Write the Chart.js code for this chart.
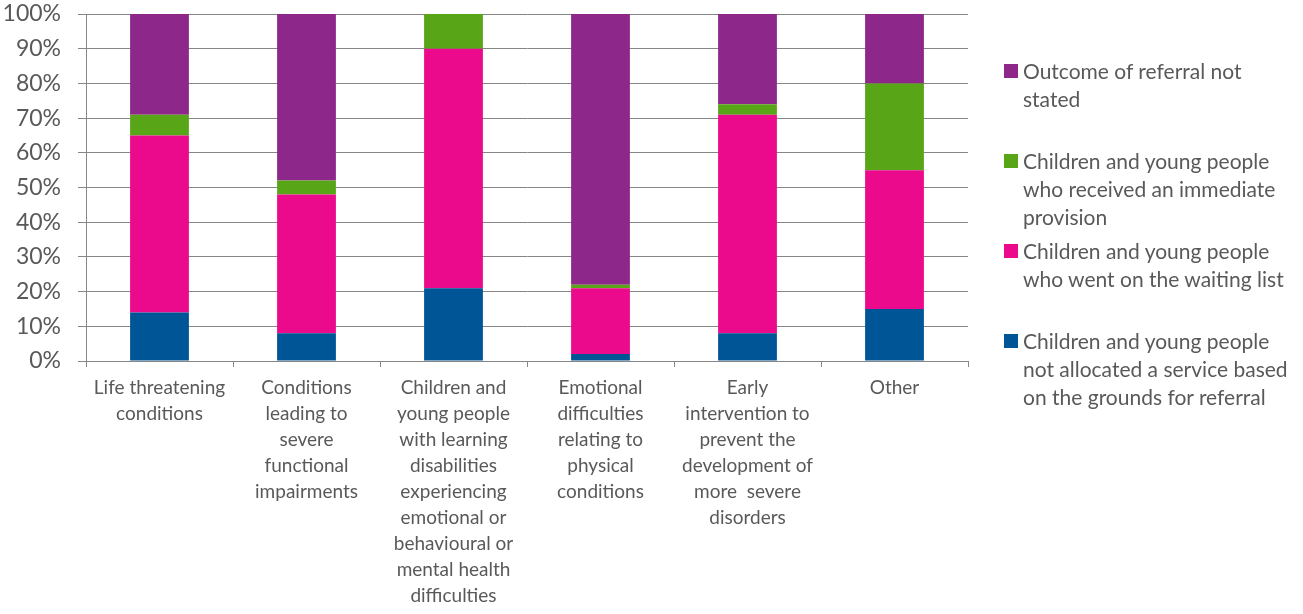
<!DOCTYPE html>
<html>
<head>
<meta charset="utf-8">
<script src="https://cdn.jsdelivr.net/npm/chart.js@4.4.1/dist/chart.umd.min.js"></script>
<style>
    body { margin: 0; background: #fff; }
    #wrap { position: relative; width: 1303px; height: 614px; }
    #legend { position: absolute; left: 1004px; top: 57px; font-family: Lato, sans-serif; font-size: 21px; line-height: 28px; color: #595959; }
    .item { position: relative; height: 90px; padding-left: 19px; white-space: nowrap; }
    .box { position: absolute; left: 0; top: 7px; width: 14px; height: 14px; }
</style>
</head>
<body>
<div id="wrap">
    <canvas id="chart"></canvas>
    <div id="legend"></div>
</div>
<script>
// categories (already wrapped the way the picture wraps them)
const categories = [
    ['Life threatening', 'conditions'],
    ['Conditions', 'leading to', 'severe', 'functional', 'impairments'],
    ['Children and', 'young people', 'with learning', 'disabilities', 'experiencing', 'emotional or', 'behavioural or', 'mental health', 'difficulties'],
    ['Emotional', 'difficulties', 'relating to', 'physical', 'conditions'],
    ['Early', 'intervention to', 'prevent the', 'development of', 'more  severe', 'disorders'],
    ['Other']
];

// series, percent of referrals
const notAllocated = [14, 8, 21, 2, 8, 15];
const waitingList = [51, 40, 69, 19, 63, 40];
const immediateProvision = [6, 4, 10, 1, 3, 25];
const notStated = [29, 48, 0, 78, 26, 20];

const seriesNames = [
    ['Children and young people', 'not allocated a service based', 'on the grounds for referral'],
    ['Children and young people', 'who went on the waiting list'],
    ['Children and young people', 'who received an immediate', 'provision'],
    ['Outcome of referral not', 'stated']
];
const seriesColors = ['#005597', '#EC0A8C', '#58A618', '#8E278A'];

const yTicks = [0, 10, 20, 30, 40, 50, 60, 70, 80, 90, 100];

const gridColor = '#868686';
const textColor = '#595959';

document.addEventListener('DOMContentLoaded', () => {
    const ctx = document.getElementById('chart').getContext('2d');
    const allSeries = [notAllocated, waitingList, immediateProvision, notStated];

    const datasets = allSeries.map((values, i) => ({
        label: seriesNames[i].join(' '),
        data: values,
        backgroundColor: seriesColors[i],
        borderWidth: 0,
        categoryPercentage: 1,
        barPercentage: 0.4
    }));

    new Chart(ctx, {
        type: 'bar',
        data: { labels: categories, datasets: datasets },
        options: {
            responsive: true,
            maintainAspectRatio: false,
            animation: false,
            layout: { padding: { top: 14, right: 335, left: 0, bottom: 0 } },
            plugins: { legend: { display: false }, tooltip: { enabled: false } },
            scales: {
                x: {
                    stacked: true,
                    grid: { offset: true, drawOnChartArea: false, color: gridColor, tickLength: 6 },
                    border: { color: gridColor },
                    ticks: {
                        color: textColor,
                        maxRotation: 0,
                        autoSkip: false,
                        padding: 8,
                        font: { family: 'Lato', size: 19, lineHeight: 26 / 19 }
                    },
                    afterFit: scale => {
                        scale.height = 253;
                        scale.paddingLeft = 0;
                        scale.paddingRight = 0;
                    }
                },
                y: {
                    stacked: true,
                    min: 0,
                    max: 100,
                    afterBuildTicks: scale => { scale.ticks = yTicks.map(v => ({ value: v })); },
                    grid: { color: gridColor, tickLength: 8 },
                    border: { color: gridColor },
                    ticks: {
                        color: textColor,
                        padding: 17,
                        font: { family: 'Lato', size: 23 },
                        callback: v => v + '%'
                    },
                    afterFit: scale => {
                        scale.width = 86;
                        scale.paddingTop = 0;
                        scale.paddingBottom = 0;
                    }
                }
            }
        }
    });

    // --- Legend (top item is the top of the stack) ---
    const legendEl = document.getElementById('legend');
    for (let i = seriesNames.length - 1; i >= 0; i--) {
        const itemEl = document.createElement('div');
        itemEl.className = 'item';
        itemEl.innerHTML = `<span class="box" style="background:${seriesColors[i]}"></span>${seriesNames[i].join('<br>')}`;
        legendEl.appendChild(itemEl);
    }
});
</script>
</body>
</html>
